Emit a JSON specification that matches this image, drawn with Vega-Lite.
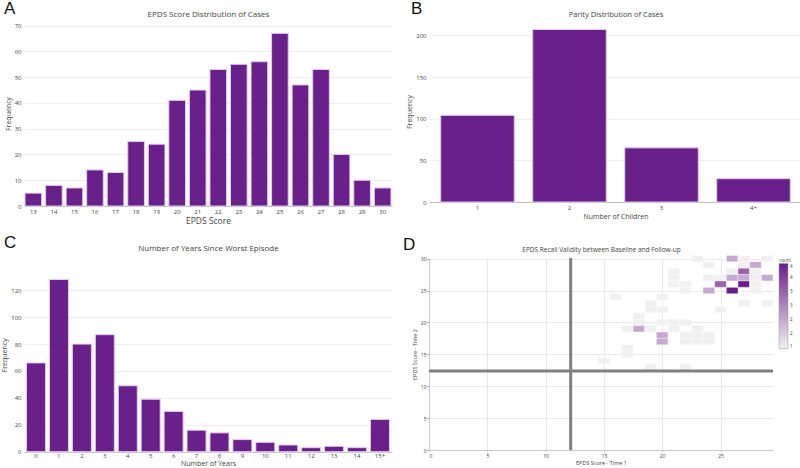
{
  "$schema": "https://vega.github.io/schema/vega-lite/v6.json",
  "autosize": {"type": "pad"},
  "padding": 0,
  "background": "white",
  "bounds": "flush",
  "columns": 2,
  "spacing": {"row": 52, "column": 37},
  "resolve": {"scale": {"color": "independent"}, "legend": {"color": "independent"}},
  "config": {
    "font": "Open Sans",
    "view": {"stroke": null},
    "axis": {"labelColor": "#444", "titleColor": "#444", "gridColor": "#eeeeee", "domain": false, "ticks": false, "labelFontWeight": "normal", "titleFontWeight": "normal", "labelFont": "Open Sans", "titleFont": "Open Sans", "labelOverlap": false},
    "title": {"color": "#111", "fontWeight": "normal", "font": "Liberation Sans", "fontSize": 17, "anchor": "start", "frame": "group", "offset": 0, "dy": 12},
    "legend": {"labelFont": "Open Sans", "titleFont": "Open Sans", "labelColor": "#444", "titleColor": "#444"}
  },
  "concat": [
    {
      "width": 368,
      "height": 185,
      "title": {"text": "A", "dx": -20},
      "data": {"values": [
        {"score": 13, "n": 5}, {"score": 14, "n": 8}, {"score": 15, "n": 7}, {"score": 16, "n": 14},
        {"score": 17, "n": 13}, {"score": 18, "n": 25}, {"score": 19, "n": 24}, {"score": 20, "n": 41},
        {"score": 21, "n": 45}, {"score": 22, "n": 53}, {"score": 23, "n": 55}, {"score": 24, "n": 56},
        {"score": 25, "n": 67}, {"score": 26, "n": 47}, {"score": 27, "n": 53}, {"score": 28, "n": 20},
        {"score": 29, "n": 10}, {"score": 30, "n": 7}
      ]},
      "resolve": {"axis": {"x": "independent"}},
      "layer": [
        {
          "mark": {"type": "bar", "color": "#69208a", "stroke": "#e3cdef", "strokeWidth": 1},
          "encoding": {
            "x": {"field": "score", "type": "ordinal", "title": "EPDS Score", "scale": {"paddingInner": 0.19, "paddingOuter": 0.05},
              "axis": {"labelAngle": 0, "labelFontSize": 6, "titleFontSize": 8.5, "labelPadding": 2, "titlePadding": 2, "domain": true, "domainColor": "#bbbbbb"}},
            "y": {"field": "n", "type": "quantitative", "title": "Frequency", "scale": {"domain": [0, 71.8], "nice": false},
              "axis": {"values": [0, 10, 20, 30, 40, 50, 60, 70], "labelOverlap": false, "labelFontSize": 6, "titleFontSize": 7, "labelPadding": 3, "titlePadding": 3}}
          }
        },
        {
          "mark": {"type": "bar", "opacity": 0},
          "encoding": {
            "x": {"field": "score", "type": "ordinal", "title": "EPDS Score Distribution of Cases",
              "axis": {"orient": "top", "labels": false, "grid": false, "titleFontSize": 8, "titlePadding": 3}}
          }
        }
      ]
    },
    {
      "width": 373,
      "height": 181,
      "title": {"text": "B", "dx": -18},
      "data": {"values": [
        {"children": "1", "freq": 104}, {"children": "2", "freq": 207}, {"children": "3", "freq": 65}, {"children": "4+", "freq": 28}
      ]},
      "resolve": {"axis": {"x": "independent"}},
      "layer": [
        {
          "mark": {"type": "bar", "color": "#69208a", "stroke": "#e3cdef", "strokeWidth": 1},
          "encoding": {
            "x": {"field": "children", "type": "ordinal", "title": "Number of Children", "scale": {"paddingInner": 0.2, "paddingOuter": 0.127},
              "axis": {"labelAngle": 0, "labelFontSize": 6, "titleFontSize": 7, "labelPadding": 2, "titlePadding": 2, "domain": true, "domainColor": "#bbbbbb"}},
            "y": {"field": "freq", "type": "quantitative", "title": "Frequency", "scale": {"domain": [0, 217.2], "nice": false},
              "axis": {"values": [0, 50, 100, 150, 200], "labelOverlap": false, "labelFontSize": 6, "titleFontSize": 7, "labelPadding": 3, "titlePadding": 3}}
          }
        },
        {
          "mark": {"type": "bar", "opacity": 0},
          "encoding": {
            "x": {"field": "children", "type": "ordinal", "title": "Parity Distribution of Cases",
              "axis": {"orient": "top", "labels": false, "grid": false, "titleFontSize": 7.5, "titlePadding": 3}}
          }
        }
      ]
    },
    {
      "width": 368,
      "height": 193.7,
      "title": {"text": "C", "dx": -20},
      "data": {"values": [
        {"years": "0", "cnt": 66}, {"years": "1", "cnt": 128}, {"years": "2", "cnt": 80}, {"years": "3", "cnt": 87},
        {"years": "4", "cnt": 49}, {"years": "5", "cnt": 39}, {"years": "6", "cnt": 30}, {"years": "7", "cnt": 16},
        {"years": "8", "cnt": 14}, {"years": "9", "cnt": 9}, {"years": "10", "cnt": 7}, {"years": "11", "cnt": 5},
        {"years": "12", "cnt": 3}, {"years": "13", "cnt": 4}, {"years": "14", "cnt": 3}, {"years": "15+", "cnt": 24}
      ]},
      "resolve": {"axis": {"x": "independent"}},
      "layer": [
        {
          "mark": {"type": "bar", "color": "#69208a", "stroke": "#e3cdef", "strokeWidth": 1},
          "encoding": {
            "x": {"field": "years", "type": "ordinal", "sort": null, "title": "Number of Years", "scale": {"paddingInner": 0.17, "paddingOuter": 0.11},
              "axis": {"labelAngle": 0, "labelFontSize": 6, "titleFontSize": 7, "labelPadding": 1, "titlePadding": 1, "domain": true, "domainColor": "#bbbbbb"}},
            "y": {"field": "cnt", "type": "quantitative", "title": "Frequency", "scale": {"domain": [0, 144], "nice": false},
              "axis": {"values": [0, 20, 40, 60, 80, 100, 120], "labelOverlap": false, "labelFontSize": 6, "titleFontSize": 7, "labelPadding": 3, "titlePadding": 3}}
          }
        },
        {
          "mark": {"type": "bar", "opacity": 0},
          "encoding": {
            "x": {"field": "years", "type": "ordinal", "sort": null, "title": "Number of Years Since Worst Episode",
              "axis": {"orient": "top", "labels": false, "grid": false, "titleFontSize": 8, "titlePadding": 6}}
          }
        }
      ]
    },
    {
      "width": 344,
      "height": 192,
      "title": {"text": "D", "dx": -26},
      "resolve": {"axis": {"x": "independent"}},
      "layer": [
        {
          "data": {"values": [
            {"t1": 23, "t2": 30, "count": 1}, {"t1": 26, "t2": 30, "count": 2}, {"t1": 27, "t2": 30, "count": 1}, {"t1": 29, "t2": 30, "count": 1},
            {"t1": 24, "t2": 29, "count": 1}, {"t1": 27, "t2": 29, "count": 1}, {"t1": 28, "t2": 29, "count": 2},
            {"t1": 21, "t2": 28, "count": 1}, {"t1": 26, "t2": 28, "count": 1}, {"t1": 27, "t2": 28, "count": 3}, {"t1": 28, "t2": 28, "count": 1},
            {"t1": 21, "t2": 27, "count": 1}, {"t1": 24, "t2": 27, "count": 1}, {"t1": 25, "t2": 27, "count": 1}, {"t1": 26, "t2": 27, "count": 2},
            {"t1": 27, "t2": 27, "count": 2}, {"t1": 28, "t2": 27, "count": 1}, {"t1": 29, "t2": 27, "count": 2},
            {"t1": 21, "t2": 26, "count": 1}, {"t1": 22, "t2": 26, "count": 1}, {"t1": 25, "t2": 26, "count": 3}, {"t1": 27, "t2": 26, "count": 4}, {"t1": 28, "t2": 26, "count": 1},
            {"t1": 22, "t2": 25, "count": 1}, {"t1": 24, "t2": 25, "count": 2}, {"t1": 26, "t2": 25, "count": 4}, {"t1": 28, "t2": 25, "count": 1},
            {"t1": 16, "t2": 24, "count": 1}, {"t1": 20, "t2": 24, "count": 1},
            {"t1": 19, "t2": 23, "count": 1}, {"t1": 27, "t2": 23, "count": 1}, {"t1": 29, "t2": 23, "count": 1},
            {"t1": 19, "t2": 22, "count": 1}, {"t1": 20, "t2": 22, "count": 1}, {"t1": 25, "t2": 22, "count": 1},
            {"t1": 18, "t2": 21, "count": 1}, {"t1": 18, "t2": 20, "count": 1}, {"t1": 20, "t2": 20, "count": 1}, {"t1": 21, "t2": 20, "count": 1}, {"t1": 22, "t2": 20, "count": 1},
            {"t1": 17, "t2": 19, "count": 1}, {"t1": 18, "t2": 19, "count": 2}, {"t1": 19, "t2": 19, "count": 1}, {"t1": 21, "t2": 19, "count": 1}, {"t1": 23, "t2": 19, "count": 1},
            {"t1": 20, "t2": 18, "count": 2}, {"t1": 22, "t2": 18, "count": 1}, {"t1": 23, "t2": 18, "count": 1}, {"t1": 24, "t2": 18, "count": 1},
            {"t1": 20, "t2": 17, "count": 2}, {"t1": 22, "t2": 17, "count": 1}, {"t1": 23, "t2": 17, "count": 1}, {"t1": 24, "t2": 17, "count": 1},
            {"t1": 17, "t2": 16, "count": 1}, {"t1": 17, "t2": 15, "count": 1}, {"t1": 15, "t2": 14, "count": 1}, {"t1": 19, "t2": 13, "count": 1}, {"t1": 22, "t2": 13, "count": 1}
          ]},
          "mark": {"type": "rect", "width": 11.67, "height": 6.38, "stroke": "white", "strokeWidth": 0.4},
          "encoding": {
            "x": {"field": "t1", "type": "quantitative", "title": "EPDS Score - Time 1", "scale": {"domain": [0, 29.5], "nice": false, "zero": false},
              "axis": {"values": [0, 5, 10, 15, 20, 25], "labelFontSize": 5, "titleFontSize": 5.5, "labelPadding": 1, "titlePadding": 2, "gridColor": "#e8e8e8", "domain": true, "domainColor": "#cccccc", "ticks": true, "tickSize": 2, "tickColor": "#cccccc"}},
            "y": {"field": "t2", "type": "quantitative", "title": "EPDS Score - Time 2", "scale": {"domain": [0, 30.1], "nice": false, "zero": false},
              "axis": {"values": [0, 5, 10, 15, 20, 25, 30], "labelOverlap": false, "labelFontSize": 5, "titleFontSize": 5.5, "labelPadding": 1, "titlePadding": 3, "gridColor": "#e8e8e8", "domain": true, "domainColor": "#cccccc", "ticks": true, "tickSize": 2, "tickColor": "#999999"}},
            "color": {"field": "count", "type": "quantitative", "scale": {"domain": [1, 4], "range": ["#f0f0f0", "#6a1b8a"]},
              "legend": {"title": "count", "titleFontSize": 4.5, "titleFontWeight": "normal", "labelFontSize": 4.5, "gradientLength": 85, "gradientThickness": 9, "values": [1, 1.5, 2, 2.5, 3, 3.5, 4], "offset": 6, "titlePadding": 1, "labelOffset": 2, "gradientStrokeColor": "#999999", "gradientStrokeWidth": 0.5}}
          }
        },
        {
          "data": {"values": [{"cut1": 12.15}]},
          "mark": {"type": "rule", "color": "#808080", "strokeWidth": 3},
          "encoding": {
            "x": {"field": "cut1", "type": "quantitative", "title": "EPDS Recall Validity between Baseline and Follow-up",
              "axis": {"orient": "top", "labels": false, "grid": false, "ticks": false, "domain": false, "titleFontSize": 6.5, "titlePadding": 6}}
          }
        },
        {
          "data": {"values": [{"t2": 12.4}]},
          "mark": {"type": "rule", "color": "#808080", "strokeWidth": 3},
          "encoding": {"y": {"field": "t2", "type": "quantitative", "title": "EPDS Score - Time 2",
            "axis": {"values": [0, 5, 10, 15, 20, 25, 30], "labelOverlap": false, "labelFontSize": 5, "titleFontSize": 5.5, "labelPadding": 1, "titlePadding": 3, "gridColor": "#e8e8e8", "domain": true, "domainColor": "#cccccc", "ticks": true, "tickSize": 2, "tickColor": "#999999"}}}
        }
      ]
    }
  ]
}
